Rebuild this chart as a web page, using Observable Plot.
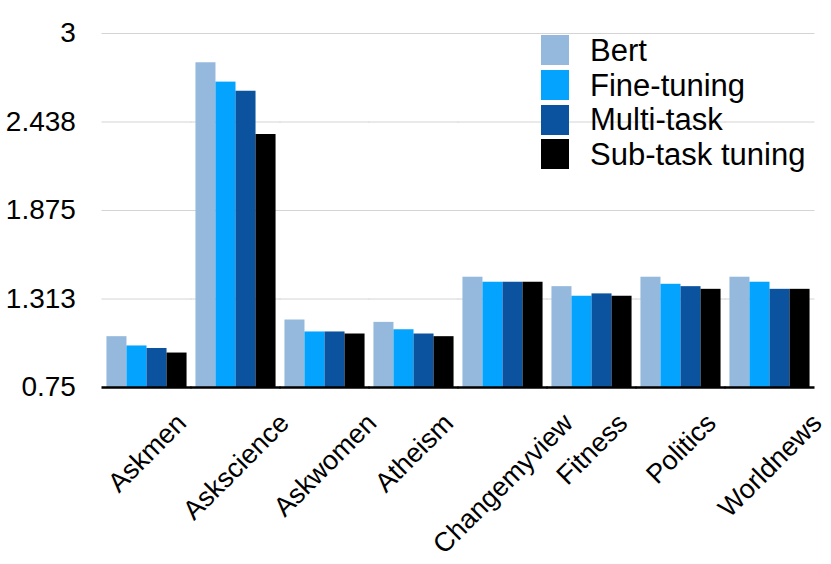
<!DOCTYPE html>
<html>
<head>
<meta charset="utf-8">
<script src="https://cdn.jsdelivr.net/npm/d3@7"></script>
<script src="https://cdn.jsdelivr.net/npm/@observablehq/plot@0.6"></script>
<style>
  html, body { margin: 0; padding: 0; background: #fff; }
  #wrap { position: relative; width: 831px; height: 564px; font-family: "Liberation Sans", Arial, sans-serif; }
  #legend { position: absolute; left: 541px; top: 33px; }
  .item { display: flex; align-items: center; height: 34.7px; }
  .sw { width: 28px; height: 30px; margin-right: 21px; }
  .lab { font-size: 31px; color: #000; line-height: 1; white-space: nowrap; }
</style>
</head>
<body>
<div id="wrap"><div id="legend"></div></div>
<script>
const categories = ["Askmen", "Askscience", "Askwomen", "Atheism", "Changemyview", "Fitness", "Politics", "Worldnews"];
const series = ["Bert", "Fine-tuning", "Multi-task", "Sub-task tuning"];
const colors = ["#95b9dc", "#04a3fe", "#0b539f", "#000000"];
const bert       = [1.073, 2.814, 1.179, 1.164, 1.451, 1.391, 1.451, 1.451];
const fineTuning = [1.014, 2.691, 1.103, 1.117, 1.419, 1.330, 1.406, 1.419];
const multiTask  = [0.998, 2.633, 1.103, 1.090, 1.419, 1.345, 1.391, 1.374];
const subTask    = [0.969, 2.358, 1.090, 1.073, 1.419, 1.330, 1.374, 1.374];
const yTicks = [0.75, 1.3125, 1.875, 2.4375, 3];
const yTickLabels = ["0.75", "1.313", "1.875", "2.438", "3"];

const valuesBySeries = [bert, fineTuning, multiTask, subTask];
const data = [];
categories.forEach((c, i) => series.forEach((s, j) => data.push({category: c, series: s, value: valuesBySeries[j][i]})));

const W = 831, H = 564, mL = 102, mR = 17, mT = 33, mB = 177;
const padIn = 0.1, padOut = 0.05;
const step = (W - mL - mR) / (categories.length - padIn + 2 * padOut);
const halfGap = padIn * step / 2; // extend rules across facet gaps so they look continuous
const xFont = 27;

const chart = Plot.plot({
  width: W,
  height: H,
  marginLeft: mL,
  marginRight: mR,
  marginTop: mT,
  marginBottom: mB,
  style: {fontFamily: "Liberation Sans, Arial, sans-serif", background: "#fff", color: "#000"},
  fx: {domain: categories, paddingInner: padIn, paddingOuter: padOut, round: false, label: null},
  x: {domain: series, padding: 0, axis: null, round: false},
  y: {domain: [yTicks[0], yTicks[yTicks.length - 1]], label: null},
  color: {domain: series, range: colors},
  marks: [
    Plot.ruleY(yTicks.slice(1), {stroke: "#d4d4d4", strokeWidth: 1, insetLeft: -halfGap - 0.5, insetRight: -halfGap - 0.5}),
    Plot.barY(data, {fx: "category", x: "series", y1: yTicks[0], y2: "value", fill: "series"}),
    Plot.ruleY([yTicks[0]], {stroke: "#000", strokeWidth: 2.5, insetLeft: -halfGap - 0.5, insetRight: -halfGap - 0.5}),
    Plot.axisY(yTicks, {tickSize: 0, tickPadding: 31, fontSize: 28, label: null,
      tickFormat: d => yTickLabels[yTicks.indexOf(d)]}),
    Plot.axisFx({anchor: "bottom", tickSize: 0, fontSize: xFont, label: null, tickRotate: -45, textAnchor: "end"})
  ]
});

document.getElementById("wrap").appendChild(chart);

// position rotated category labels: bounding box centered under group, top at fixed offset
const fxs = chart.scale("fx");
const c45 = Math.SQRT1_2;
const yScale = chart.scale("y");
const baseY = yScale.apply(yTicks[0]);
chart.querySelectorAll('g[aria-label="fx-axis tick label"] text').forEach(t => {
  const cat = t.textContent;
  const cx = fxs.apply(cat) + fxs.bandwidth / 2;
  const L = t.getComputedTextLength();
  const asc = 0.72 * xFont;
  const px = cx + (L + asc) * c45 / 2;
  const py = baseY + 24 + asc * c45;
  const m = t.parentNode.getCTM();
  t.removeAttribute("x");
  t.removeAttribute("y");
  t.setAttribute("dy", "0");
  t.setAttribute("text-anchor", "end");
  t.setAttribute("transform", `translate(${px - m.e},${py - m.f}) rotate(-45)`);
});

const legend = document.getElementById("legend");
series.forEach((s, i) => {
  const item = document.createElement("div");
  item.className = "item";
  const sw = document.createElement("div");
  sw.className = "sw";
  sw.style.background = colors[i];
  const lab = document.createElement("span");
  lab.className = "lab";
  lab.textContent = s;
  item.appendChild(sw);
  item.appendChild(lab);
  legend.appendChild(item);
});
</script>
</body>
</html>
